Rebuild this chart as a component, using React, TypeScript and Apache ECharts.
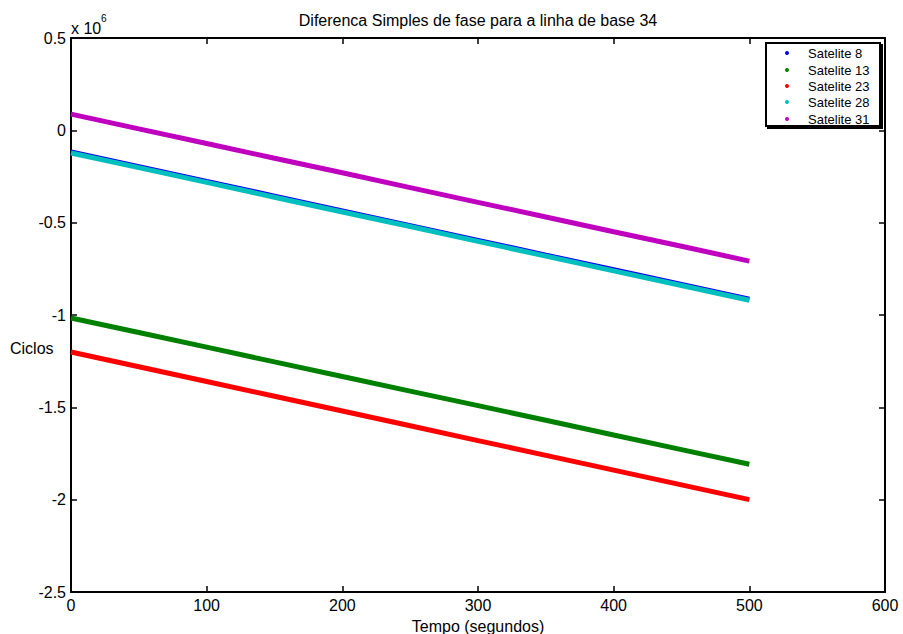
import React, { useEffect, useRef } from "react";
import * as echarts from "echarts";

const times = [0, 50, 100, 150, 200, 250, 300, 350, 400, 450, 500];
const seriesNames = ["Satelite 8", "Satelite 13", "Satelite 23", "Satelite 28", "Satelite 31"];
const sat8 = [-117000, -197000, -277000, -356000, -436000, -516000, -596000, -676000, -755000, -835000, -915000];
const sat13 = [-1016000, -1095000, -1174000, -1254000, -1333000, -1412000, -1491000, -1570000, -1650000, -1729000, -1808000];
const sat23 = [-1200000, -1280000, -1360000, -1440000, -1520000, -1600000, -1680000, -1760000, -1840000, -1920000, -2000000];
const sat28 = [-123000, -202000, -282000, -362000, -442000, -521000, -601000, -681000, -761000, -840000, -920000];
const sat31 = [88000, 8000, -71000, -151000, -230000, -310000, -390000, -469000, -549000, -628000, -708000];
const colors = ["#0000FF", "#008000", "#FF0000", "#00BFBF", "#BF00BF"];
const xTicks = [0, 100, 200, 300, 400, 500, 600];
const yTicks = [0.5, 0, -0.5, -1, -1.5, -2, -2.5];

const FONT = "'Liberation Sans', Arial, sans-serif";

export default function App() {
  const ref = useRef<HTMLDivElement>(null);
  useEffect(() => {
    if (!ref.current) return;
    const chart = echarts.init(ref.current, undefined, { renderer: "svg" });
    const all = [sat8, sat13, sat23, sat28, sat31];
    const axisLine = { show: true, onZero: false, lineStyle: { color: "#000", width: 2 } };
    const tick = { show: true, inside: true, length: 6, lineStyle: { color: "#000", width: 1.5 } };

    // legend drawn as graphic elements (box, dots, labels)
    const legLeft = 766;
    const legTop = 43;
    const rowY = [53, 70, 86, 102, 119];
    const legendGraphics: any[] = [
      {
        type: "rect",
        shape: { x: legLeft + 1, y: legTop + 1, width: 116, height: 85 },
        style: { fill: "#000" },
        z: 100,
      },
      {
        type: "rect",
        shape: { x: legLeft, y: legTop, width: 114, height: 83 },
        style: { fill: "#fff", stroke: "#000", lineWidth: 2 },
        z: 101,
      },
    ];
    seriesNames.forEach((name, i) => {
      legendGraphics.push({
        type: "circle",
        shape: { cx: 787, cy: rowY[i], r: 2 },
        style: { fill: colors[i] },
        z: 102,
      });
      legendGraphics.push({
        type: "text",
        x: 808,
        y: rowY[i],
        style: {
          text: name,
          fontFamily: FONT,
          fontSize: 13,
          fill: "#000",
          verticalAlign: "middle",
        },
        z: 102,
      });
    });

    chart.setOption({
      animation: false,
      backgroundColor: "#fff",
      grid: { left: 71, right: 18, top: 38, bottom: 42, show: false, containLabel: false, outerBoundsMode: "none" },
      xAxis: [
        {
          type: "value",
          min: 0,
          max: 600,
          interval: 100,
          position: "bottom",
          axisLine,
          axisTick: tick,
          splitLine: { show: false },
          axisLabel: {
            color: "#000",
            fontFamily: FONT,
            fontSize: 16,
            margin: 5,
            formatter: (v: number) => (xTicks.includes(v) ? String(v) : ""),
          },
          name: "Tempo (segundos)",
          nameLocation: "middle",
          nameGap: 26,
          nameTextStyle: { color: "#000", fontFamily: FONT, fontSize: 16 },
        },
        {
          type: "value",
          min: 0,
          max: 600,
          interval: 100,
          position: "top",
          axisLine,
          axisTick: tick,
          splitLine: { show: false },
          axisLabel: { show: false },
        },
      ],
      yAxis: [
        {
          type: "value",
          min: -2500000,
          max: 500000,
          interval: 500000,
          position: "left",
          axisLine,
          axisTick: tick,
          splitLine: { show: false },
          axisLabel: {
            color: "#000",
            fontFamily: FONT,
            fontSize: 16,
            margin: 5,
            formatter: (v: number) => {
              const s = v / 1e6;
              return yTicks.includes(s) ? String(s) : "";
            },
          },
        },
        {
          type: "value",
          min: -2500000,
          max: 500000,
          interval: 500000,
          position: "right",
          axisLine,
          axisTick: tick,
          splitLine: { show: false },
          axisLabel: { show: false },
        },
      ],
      graphic: [
        {
          type: "text",
          x: 478,
          y: 20,
          style: {
            text: "Diferenca Simples de fase para a linha de base 34",
            fontFamily: FONT,
            fontSize: 16,
            fill: "#000",
            align: "center",
            verticalAlign: "middle",
          },
        },
        {
          type: "text",
          x: 71,
          y: 28,
          style: { text: "x 10", fontFamily: FONT, fontSize: 16, fill: "#000", verticalAlign: "middle" },
        },
        {
          type: "text",
          x: 101,
          y: 18,
          style: { text: "6", fontFamily: FONT, fontSize: 10, fill: "#000", verticalAlign: "middle" },
        },
        {
          type: "text",
          x: 10,
          y: 348,
          style: { text: "Ciclos", fontFamily: FONT, fontSize: 16, fill: "#000", verticalAlign: "middle" },
        },
        ...legendGraphics,
      ],
      series: all.map((vals, i) => ({
        name: seriesNames[i],
        type: "line",
        xAxisIndex: 0,
        yAxisIndex: 0,
        data: times.map((t, j) => [t, vals[j]]),
        symbol: "none",
        showSymbol: false,
        itemStyle: { color: colors[i] },
        lineStyle: { color: colors[i], width: 5 },
        z: 2 + i,
      })),
    });
    return () => chart.dispose();
  }, []);
  return <div ref={ref} style={{ width: 903, height: 634, position: "absolute", left: 0, top: 0 }} />;
}
